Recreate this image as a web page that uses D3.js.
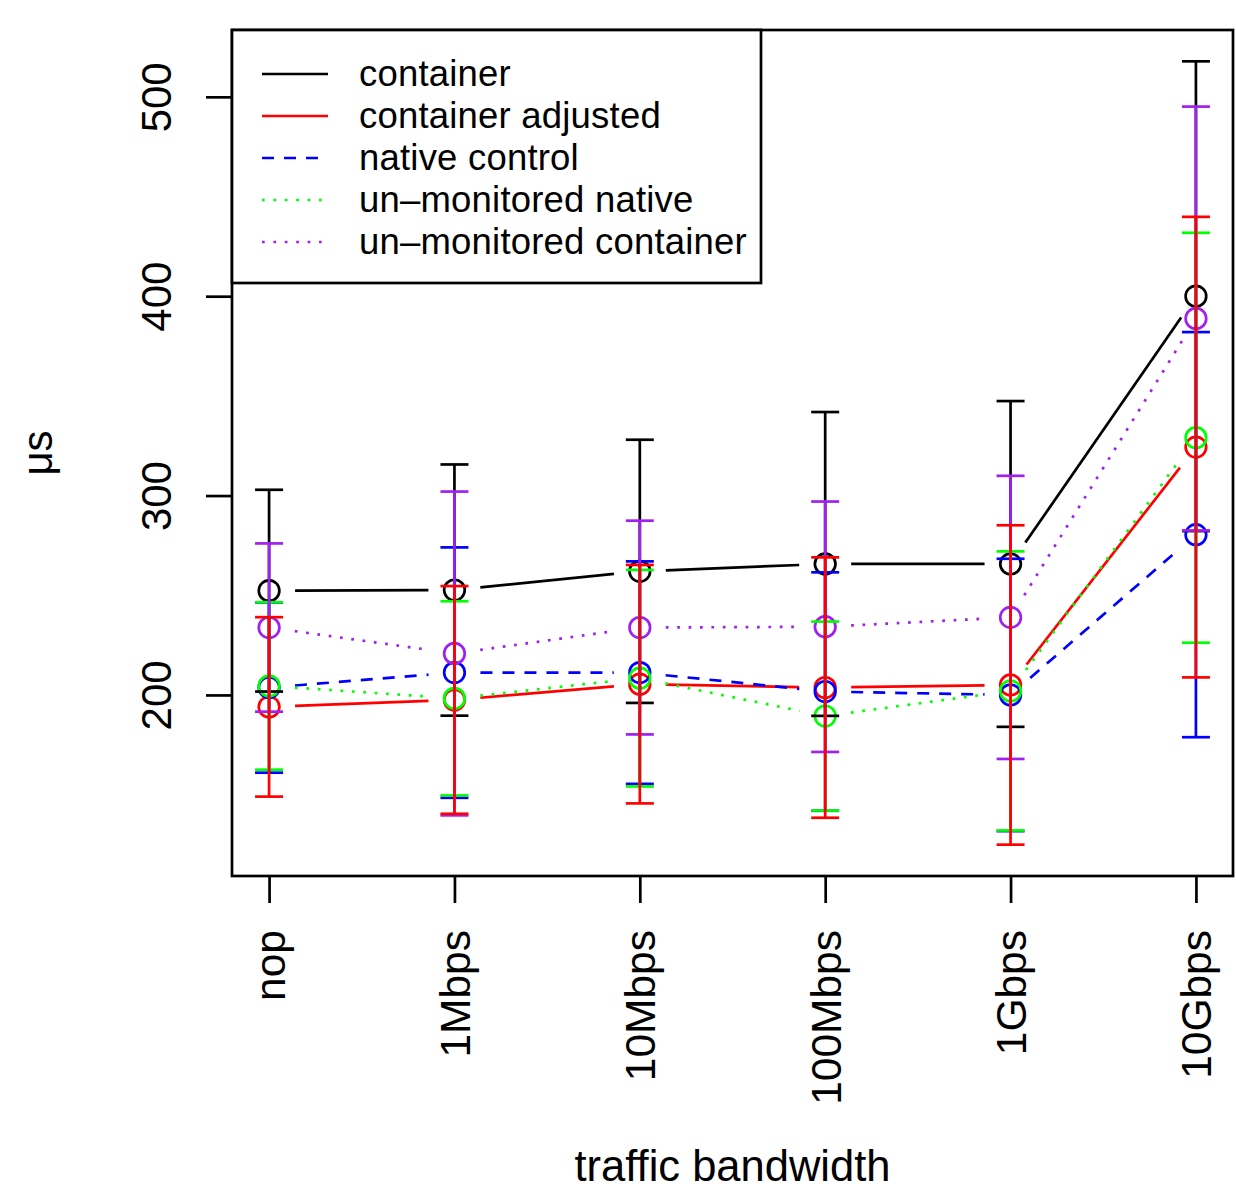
<!DOCTYPE html>
<html>
<head>
<meta charset="utf-8">
<script src="https://cdn.jsdelivr.net/npm/d3@7"></script>
<style>
  body { margin: 0; background: #fff; }
  svg { display: block; }
  text { font-family: "Liberation Sans", Arial, Helvetica, sans-serif; fill: #000; }
</style>
</head>
<body>
<script>
// categories on the x axis
const categories = ['nop', '1Mbps', '10Mbps', '100Mbps', '1Gbps', '10Gbps']
const yTicks = [200, 300, 400, 500]

// means and standard deviations, µs
const container = [252.3, 252.6, 262.0, 265.7, 265.7, 400.0]
const containerSd = [50.6, 63.0, 66.0, 76.2, 81.7, 117.8]
const adjusted = [194.0, 197.5, 205.4, 203.7, 205.0, 324.3]
const adjustedSd = [45.0, 57.1, 59.8, 65.3, 80.1, 115.5]
const nativeCtl = [203.7, 211.2, 211.2, 201.7, 200.0, 280.4]
const nativeCtlSd = [42.7, 62.8, 55.8, 59.8, 68.3, 101.6]
const unmonNative = [204.5, 198.3, 208.4, 189.4, 202.0, 329.0]
const unmonNativeSd = [42.0, 48.7, 54.3, 47.4, 70.0, 102.8]
const unmonContainer = [233.8, 220.8, 233.8, 234.2, 238.9, 388.8]
const unmonContainerSd = [42.2, 81.2, 53.6, 62.8, 71.0, 106.3]

const seriesNames = ['container', 'container adjusted', 'native control',
  'un\u2013monitored native', 'un\u2013monitored container']

// build series table (legend order)
const series = [
  { name: seriesNames[0], mean: container, sd: containerSd, color: '#000000', dash: null },
  { name: seriesNames[1], mean: adjusted, sd: adjustedSd, color: '#ff0000', dash: null },
  { name: seriesNames[2], mean: nativeCtl, sd: nativeCtlSd, color: '#0000ff', dash: '12,10' },
  { name: seriesNames[3], mean: unmonNative, sd: unmonNativeSd, color: '#00ff00', dash: '2.7,8.7' },
  { name: seriesNames[4], mean: unmonContainer, sd: unmonContainerSd, color: '#a020f0', dash: '2.7,8.7' }
]
// error bars drawn in this order (red last, on top)
const barOrder = [0, 2, 3, 4, 1]

const width = 1236
const height = 1190
const plotL = 232, plotR = 1233, plotT = 30, plotB = 876
const lw = 2.7

const svg = d3.select('body').append('svg')
  .attr('width', width)
  .attr('height', height)

// R-style 4% extension of the data range
const x = d3.scaleLinear()
  .domain([1 - 0.04 * 5, 6 + 0.04 * 5])
  .range([plotL, plotR])

const lo = d3.min(series, s => d3.min(s.mean, (m, i) => m - s.sd[i]))
const hi = d3.max(series, s => d3.max(s.mean, (m, i) => m + s.sd[i]))
const pad = (hi - lo) * 0.04
const y = d3.scaleLinear()
  .domain([lo - pad, hi + pad])
  .range([plotB, plotT])

// lines with gaps around the points (like type = "b")
const gap = 26
series.forEach(s => {
  const g = svg.append('g')
  for (let i = 0; i < s.mean.length - 1; i++) {
    const x1 = x(i + 1), y1 = y(s.mean[i])
    const x2 = x(i + 2), y2 = y(s.mean[i + 1])
    const len = Math.hypot(x2 - x1, y2 - y1)
    if (len <= 2 * gap) continue
    const ux = (x2 - x1) / len, uy = (y2 - y1) / len
    g.append('line')
      .attr('x1', x1 + ux * gap).attr('y1', y1 + uy * gap)
      .attr('x2', x2 - ux * gap).attr('y2', y2 - uy * gap)
      .attr('stroke', s.color)
      .attr('stroke-width', lw)
      .attr('stroke-dasharray', s.dash)
  }
  g.selectAll('circle')
    .data(s.mean)
    .enter().append('circle')
    .attr('cx', (d, i) => x(i + 1))
    .attr('cy', d => y(d))
    .attr('r', 10.3)
    .attr('fill', 'none')
    .attr('stroke', s.color)
    .attr('stroke-width', lw)
})

// error bars
const cap = 14
barOrder.forEach(k => {
  const s = series[k]
  const g = svg.append('g')
  const bars = g.selectAll('g')
    .data(s.mean.map((m, i) => ({ i: i + 1, m: m, sd: s.sd[i] })))
    .enter().append('g')
    .attr('stroke', s.color)
    .attr('stroke-width', lw)
  bars.append('line')
    .attr('x1', d => x(d.i)).attr('x2', d => x(d.i))
    .attr('y1', d => y(d.m - d.sd)).attr('y2', d => y(d.m + d.sd))
  bars.append('line')
    .attr('x1', d => x(d.i) - cap).attr('x2', d => x(d.i) + cap)
    .attr('y1', d => y(d.m + d.sd)).attr('y2', d => y(d.m + d.sd))
  bars.append('line')
    .attr('x1', d => x(d.i) - cap).attr('x2', d => x(d.i) + cap)
    .attr('y1', d => y(d.m - d.sd)).attr('y2', d => y(d.m - d.sd))
})

// y axis
const yAxis = svg.append('g')
  .attr('transform', `translate(${plotL},0)`)
  .call(d3.axisLeft(y).tickValues(yTicks).tickSize(26).tickFormat(d3.format('d')))
yAxis.select('.domain').remove()
yAxis.selectAll('line').attr('stroke', '#000').attr('stroke-width', lw)
yAxis.selectAll('text')
  .attr('x', null).attr('dy', null)
  .attr('transform', 'translate(-61,0) rotate(-90)')
  .attr('text-anchor', 'middle')
  .style('font-size', '42px')

// x axis
const xAxis = svg.append('g')
  .attr('transform', `translate(0,${plotB})`)
  .call(d3.axisBottom(x).tickValues([1, 2, 3, 4, 5, 6]).tickSize(27)
    .tickFormat(d => categories[d - 1]))
xAxis.select('.domain').remove()
xAxis.selectAll('line').attr('stroke', '#000').attr('stroke-width', lw)
xAxis.selectAll('text')
  .attr('y', null).attr('dy', null)
  .attr('transform', 'translate(15,54) rotate(-90)')
  .attr('text-anchor', 'end')
  .style('font-size', '42.5px')

// plot box
svg.append('rect')
  .attr('x', plotL).attr('y', plotT)
  .attr('width', plotR - plotL).attr('height', plotB - plotT)
  .attr('fill', 'none').attr('stroke', '#000').attr('stroke-width', lw)

// axis titles
svg.append('text')
  .attr('x', (plotL + plotR) / 2).attr('y', 1181)
  .attr('text-anchor', 'middle')
  .style('font-size', '43.5px')
  .text('traffic bandwidth')
svg.append('text')
  .attr('transform', `translate(52,${(plotT + plotB) / 2}) rotate(-90)`)
  .attr('text-anchor', 'middle')
  .style('font-size', '42px')
  .text('\u03bcs')

// legend
const legend = svg.append('g')
legend.append('rect')
  .attr('x', plotL).attr('y', plotT)
  .attr('width', 761 - plotL).attr('height', 283 - plotT)
  .attr('fill', '#fff').attr('stroke', '#000').attr('stroke-width', lw)
const rows = legend.selectAll('g.row')
  .data(series)
  .enter().append('g')
  .attr('class', 'row')
  .attr('transform', (d, i) => `translate(0,${74 + i * 42})`)
rows.append('line')
  .attr('x1', 262).attr('x2', 328).attr('y1', 0).attr('y2', 0)
  .attr('stroke', d => d.color)
  .attr('stroke-width', lw)
  .attr('stroke-dasharray', d => d.dash)
rows.append('text')
  .attr('x', 359).attr('y', 12)
  .style('font-size', '36.5px')
  .style('letter-spacing', '0.2px')
  .text(d => d.name)
</script>
</body>
</html>
